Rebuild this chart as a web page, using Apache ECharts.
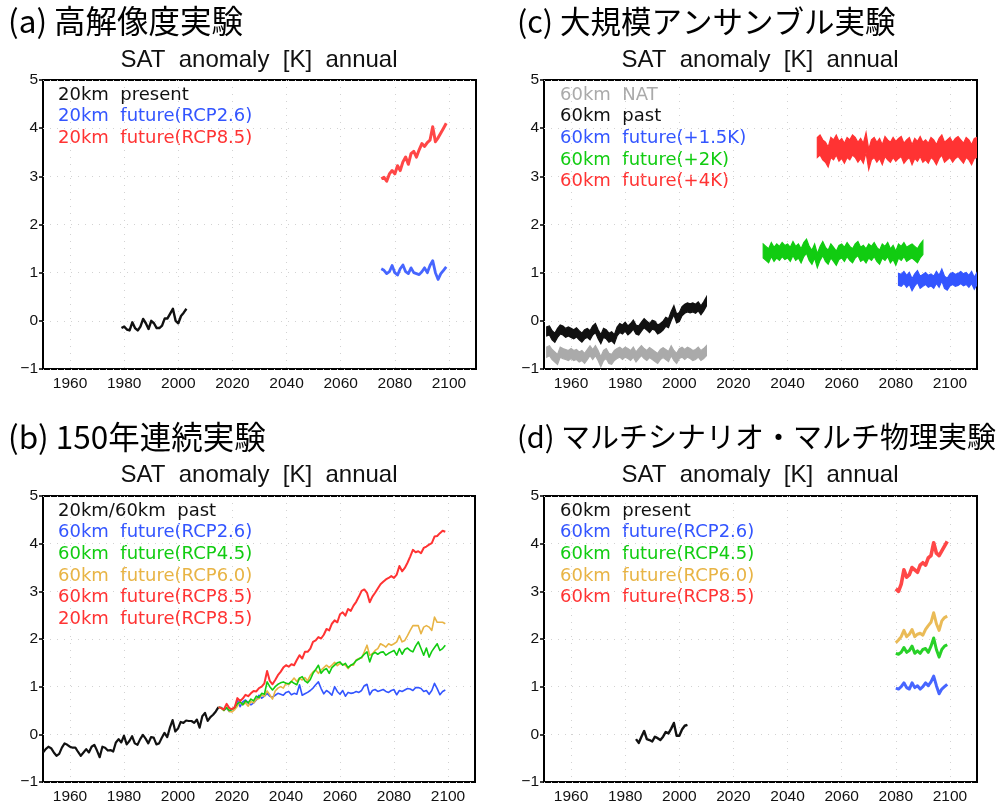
<!DOCTYPE html>
<html>
<head>
<meta charset="utf-8">
<script src="https://cdn.jsdelivr.net/npm/echarts@6/dist/echarts.min.js"></script>
<style>html,body{margin:0;padding:0;background:#fff}#c{width:1003px;height:805px}</style>
</head>
<body>
<div id="c"></div>
<script>
// ---------- tick labels ----------
const xTickYears = [1960, 1980, 2000, 2020, 2040, 2060, 2080, 2100];
const yMin = -1, yMax = 5;

// ---------- panel titles / legend texts ----------
const panelTitles = ['(a) 高解像度実験', '(b) 150年連続実験', '(c) 大規模アンサンブル実験', '(d) マルチシナリオ・マルチ物理実験'];
const subTitle = 'SAT  anomaly  [K]  annual';
const legendA = ['20km  present', '20km  future(RCP2.6)', '20km  future(RCP8.5)'];
const legendB = ['20km/60km  past', '60km  future(RCP2.6)', '60km  future(RCP4.5)', '60km  future(RCP6.0)', '60km  future(RCP8.5)', '20km  future(RCP8.5)'];
const legendC = ['60km  NAT', '60km  past', '60km  future(+1.5K)', '60km  future(+2K)', '60km  future(+4K)'];
const legendD = ['60km  present', '60km  future(RCP2.6)', '60km  future(RCP4.5)', '60km  future(RCP6.0)', '60km  future(RCP8.5)'];

// ---------- panel (a) ----------
const aPresentStart = 1979;
const aPresent = [-0.15,-0.12,-0.18,-0.20,-0.03,-0.15,-0.20,-0.12,0.04,-0.05,-0.17,0.00,-0.05,-0.15,-0.15,-0.10,0.05,0.05,0.15,0.25,0.00,-0.05,0.10,0.17,0.25];
const aFutureStart = 2075;
const aRcp26 = [1.08,1.05,0.98,1.02,1.15,1.00,0.95,1.08,1.16,1.02,0.98,1.10,1.00,0.98,0.96,1.02,1.10,1.00,1.15,1.25,1.00,0.86,0.98,1.05,1.12];
const aRcp85 = [2.95,2.98,2.90,3.05,3.12,3.05,3.22,3.12,3.30,3.40,3.25,3.47,3.52,3.40,3.55,3.68,3.62,3.70,3.75,4.03,3.72,3.80,3.90,4.00,4.10];

// ---------- panel (b) ----------
const bPastStart = 1950;
const bPast = [-0.38,-0.31,-0.26,-0.29,-0.38,-0.45,-0.41,-0.28,-0.19,-0.22,
 -0.26,-0.28,-0.28,-0.37,-0.45,-0.38,-0.31,-0.38,-0.26,-0.22,
 -0.34,-0.48,-0.26,-0.28,-0.34,-0.33,-0.36,-0.17,-0.10,-0.17,
 -0.03,-0.21,-0.14,-0.04,-0.19,-0.22,-0.10,-0.01,-0.09,-0.19,
 -0.06,-0.07,-0.21,-0.19,-0.07,0.03,-0.06,0.14,0.30,0.06,
 0.12,0.26,0.24,0.29,0.28,0.28,0.24,0.31,0.14,0.38,
 0.45,0.28,0.36,0.41,0.48,0.57];
const bFutureStart = 2015;
const bRcp26 = [0.57,0.56,0.52,0.55,0.48,0.53,0.56,0.72,0.58,0.68,
 0.72,0.66,0.62,0.66,0.72,0.82,0.76,0.80,0.86,0.80,
 0.78,0.82,0.86,0.84,0.82,0.88,0.90,0.83,0.86,0.84,
 1.04,0.82,0.85,0.88,0.92,0.97,1.04,1.10,0.96,0.85,
 0.92,0.88,0.82,1.00,0.90,0.84,0.92,0.80,0.88,0.86,
 0.87,0.90,0.88,0.92,1.02,1.05,0.83,0.92,0.94,0.90,
 0.92,0.94,0.90,0.88,0.92,0.94,0.83,0.92,0.90,0.93,
 0.96,0.95,0.92,0.98,0.98,0.96,0.90,0.92,0.84,0.92,
 1.07,0.96,0.83,0.90,0.93];
const bRcp45 = [0.57,0.56,0.50,0.56,0.50,0.52,0.56,0.64,0.68,0.62,
 0.70,0.66,0.74,0.70,0.80,0.77,0.86,0.84,1.10,1.00,
 0.93,1.00,1.05,1.08,1.10,1.07,1.06,1.11,1.07,1.04,
 1.18,1.21,1.12,1.08,1.15,1.28,1.36,1.45,1.28,1.35,
 1.38,1.28,1.40,1.45,1.50,1.52,1.45,1.49,1.40,1.45,
 1.48,1.55,1.58,1.62,1.68,1.73,1.52,1.68,1.72,1.68,
 1.72,1.73,1.66,1.70,1.73,1.76,1.66,1.80,1.68,1.78,
 1.81,1.76,1.73,1.85,1.94,1.80,1.66,1.81,1.62,1.74,
 1.82,1.90,1.76,1.80,1.87];
const bRcp60 = [0.57,0.55,0.50,0.57,0.48,0.47,0.52,0.59,0.69,0.62,
 0.66,0.59,0.69,0.66,0.73,0.75,0.83,0.80,0.91,0.83,
 0.74,0.91,0.97,1.00,0.97,1.07,1.04,1.11,1.18,1.11,
 1.18,1.14,1.19,1.12,1.24,1.31,1.35,1.28,1.35,1.40,
 1.45,1.40,1.45,1.51,1.44,1.49,1.47,1.45,1.38,1.45,
 1.45,1.56,1.59,1.60,1.73,1.87,1.66,1.69,1.76,1.80,
 1.90,1.87,1.83,1.90,1.87,1.90,1.94,2.07,1.94,1.97,
 2.07,2.18,2.28,2.28,2.28,2.11,2.25,2.28,2.25,2.18,
 2.46,2.35,2.35,2.35,2.32];
const bRcp85 = [0.57,0.55,0.52,0.64,0.55,0.53,0.57,0.76,0.70,0.75,
 0.83,0.80,0.86,0.91,0.90,0.97,1.00,1.07,1.33,1.12,
 1.05,1.14,1.24,1.31,1.40,1.45,1.42,1.47,1.45,1.56,
 1.66,1.59,1.73,1.73,1.80,1.94,1.97,2.04,2.01,2.09,
 2.21,2.18,2.32,2.39,2.35,2.52,2.56,2.49,2.63,2.59,
 2.70,2.78,2.89,3.01,3.04,2.97,2.77,2.89,2.97,3.06,
 3.15,3.20,3.25,3.28,3.32,3.28,3.35,3.53,3.42,3.49,
 3.60,3.73,3.87,3.82,3.84,3.80,3.91,3.94,3.98,4.01,
 4.15,4.16,4.22,4.27,4.25];

// ---------- panel (c) : ensemble central values ----------
const cPastStart = 1951;
const cNat = [-0.65,-0.62,-0.70,-0.75,-0.80,-0.65,-0.68,-0.70,-0.72,-0.68,
 -0.72,-0.70,-0.75,-0.72,-0.78,-0.70,-0.62,-0.70,-0.62,-0.72,
 -0.85,-0.72,-0.68,-0.78,-0.80,-0.72,-0.68,-0.65,-0.70,-0.65,
 -0.68,-0.72,-0.65,-0.75,-0.68,-0.62,-0.68,-0.72,-0.66,-0.70,
 -0.74,-0.78,-0.70,-0.66,-0.70,-0.74,-0.62,-0.72,-0.78,-0.68,
 -0.65,-0.70,-0.65,-0.68,-0.72,-0.70,-0.65,-0.72,-0.68,-0.62];
const cPast = [-0.22,-0.20,-0.30,-0.35,-0.25,-0.18,-0.20,-0.25,-0.22,-0.25,
 -0.28,-0.24,-0.30,-0.35,-0.28,-0.25,-0.30,-0.20,-0.15,-0.28,
 -0.38,-0.25,-0.28,-0.35,-0.32,-0.38,-0.22,-0.15,-0.18,-0.12,
 -0.20,-0.15,-0.08,-0.18,-0.20,-0.12,-0.05,-0.10,-0.15,-0.08,
 -0.10,-0.18,-0.15,-0.10,-0.02,-0.05,0.10,0.22,0.05,0.08,
 0.20,0.25,0.28,0.26,0.28,0.25,0.30,0.22,0.30,0.40];
const cPlus2Start = 2031;
const cPlus2 = [1.45,1.40,1.35,1.48,1.38,1.45,1.40,1.48,1.42,1.45,
 1.38,1.50,1.40,1.45,1.35,1.48,1.55,1.40,1.32,1.45,
 1.25,1.40,1.50,1.38,1.32,1.45,1.38,1.30,1.42,1.45,
 1.38,1.48,1.40,1.35,1.45,1.50,1.38,1.42,1.35,1.45,
 1.40,1.48,1.38,1.32,1.45,1.40,1.48,1.35,1.42,1.30,
 1.45,1.40,1.48,1.38,1.42,1.45,1.40,1.35,1.45,1.52];
const cPlus4Start = 2051;
const cPlus4 = [3.60,3.65,3.55,3.50,3.40,3.60,3.55,3.65,3.52,3.58,
 3.48,3.60,3.55,3.65,3.60,3.50,3.58,3.48,3.70,3.35,
 3.55,3.60,3.50,3.58,3.45,3.62,3.55,3.50,3.60,3.52,
 3.58,3.62,3.48,3.55,3.60,3.45,3.58,3.52,3.62,3.50,
 3.55,3.48,3.60,3.55,3.45,3.58,3.65,3.50,3.55,3.60,
 3.50,3.58,3.62,3.55,3.48,3.60,3.55,3.45,3.58,3.60];
const cPlus15Start = 2081;
const cPlus15 = [0.86,0.84,0.90,0.82,0.88,0.75,0.85,0.92,0.80,0.84,
 0.88,0.82,0.85,0.80,0.90,0.82,0.95,0.80,0.76,0.85,
 0.88,0.84,0.86,0.90,0.85,0.88,0.82,0.90,0.78,0.88];

// ---------- panel (d) ----------
const dPresentStart = 1984;
const dPresent = [-0.10,-0.18,-0.05,0.07,-0.10,-0.12,-0.15,-0.05,-0.08,-0.12,-0.05,0.05,0.02,0.12,0.24,-0.03,-0.03,0.10,0.18,0.20];
const dFutureStart = 2080;
const dRcp26 = [0.97,0.95,1.00,1.08,0.98,0.95,1.08,0.98,1.02,0.95,1.00,1.08,1.02,1.10,1.22,1.02,0.85,0.95,1.00,1.05];
const dRcp45 = [1.70,1.68,1.72,1.82,1.72,1.76,1.85,1.70,1.75,1.70,1.78,1.80,1.72,1.85,2.02,1.78,1.62,1.78,1.85,1.88];
const dRcp60 = [1.92,1.98,2.05,2.18,2.05,2.10,2.20,2.05,2.10,2.12,2.08,2.20,2.28,2.35,2.55,2.32,2.18,2.38,2.45,2.48];
const dRcp85 = [3.05,3.00,3.15,3.45,3.30,3.35,3.50,3.45,3.40,3.55,3.60,3.55,3.70,3.75,4.02,3.80,3.75,3.85,3.95,4.05];

// ---------- styles ----------
const COL = {black:'#111111', blue:'#3355ff', green:'#11cc11', orange:'#e8b445', red:'#ff3333', gray:'#aaaaaa'};
const grids = [
  {left:43, top:80, width:433, height:289},   // a
  {left:43, top:496, width:432, height:289},  // b
  {left:544, top:80, width:433, height:289},  // c
  {left:544, top:496, width:433, height:289}  // d
];

function pairs(start, vals){ return vals.map((v,i)=>[start+i, v]); }

const dotted = {color:'#d2d2d2', type:[1,6], width:1};
const xAxes = grids.map((g,i)=>({
  type:'value', gridIndex:i, min:1950, max:2110,
  axisLine:{show:false},
  axisTick:{show:false, customValues:xTickYears},
  axisLabel:{customValues:xTickYears, color:'#111', fontSize:15.5, fontFamily:'Liberation Sans', margin:7,
    formatter:v=>String(v)},
  splitLine:{show:true, lineStyle:dotted}
}));
const yAxes = grids.map((g,i)=>({
  type:'value', gridIndex:i, min:yMin, max:yMax, interval:1,
  axisLine:{show:false},
  axisTick:{show:true, length:4, lineStyle:{color:'#000', width:1.5}},
  axisLabel:{color:'#111', fontSize:15.5, fontFamily:'Liberation Sans', margin:5,
    formatter:v=>String(v).replace('-', '\u2212')},
  splitLine:{show:true, lineStyle:dotted}
}));

function line(gi, start, vals, color, width, opacity){
  return {type:'line', xAxisIndex:gi, yAxisIndex:gi, data:pairs(start, vals),
    showSymbol:false, symbol:'none', silent:true, animation:false, clip:true,
    lineStyle:{color:color, width:width, opacity:opacity==null?1:opacity, join:'round', cap:'butt'}};
}
// ensemble spread drawn as a band of fixed pixel thickness around the central values
function band(gi, start, vals, color, halfPx){
  const pts = pairs(start, vals);
  return {type:'custom', xAxisIndex:gi, yAxisIndex:gi, data:pts, silent:true, animation:false, clip:true,
    encode:{x:0, y:1},
    renderItem:(params, api)=>{
      if (params.dataIndex !== 0) return null;
      const cs = pts.map(p=>api.coord(p));
      const top = cs.map(c=>[c[0], c[1]-halfPx]);
      const bot = cs.map(c=>[c[0], c[1]+halfPx]).reverse();
      return {type:'polygon', shape:{points:top.concat(bot)},
        style:{fill:color, stroke:color, lineWidth:1.2, lineJoin:'miter'}};
    }};
}

const series = [
  // (a)
  line(0, aPresentStart, aPresent, COL.black, 2.4),
  line(0, aFutureStart, aRcp26, COL.blue, 2.8, 0.9),
  line(0, aFutureStart, aRcp85, COL.red, 3.0, 0.9),
  // (b)
  line(1, bPastStart, bPast, COL.black, 2.2),
  line(1, bFutureStart, bRcp26, COL.blue, 1.6),
  line(1, bFutureStart, bRcp60, COL.orange, 1.6),
  line(1, bFutureStart, bRcp45, COL.green, 1.6),
  line(1, bFutureStart, bRcp85, COL.red, 2.0),
  // (c)
  band(2, cPastStart, cNat, COL.gray, 5),
  band(2, cPastStart, cPast, COL.black, 4.5),
  band(2, cPlus2Start, cPlus2, COL.green, 7),
  band(2, cPlus4Start, cPlus4, COL.red, 10),
  band(2, cPlus15Start, cPlus15, COL.blue, 6),
  // (d)
  line(3, dPresentStart, dPresent, COL.black, 2.4),
  line(3, dFutureStart, dRcp26, COL.blue, 3.0, 0.9),
  line(3, dFutureStart, dRcp45, COL.green, 3.0, 0.9),
  line(3, dFutureStart, dRcp60, COL.orange, 3.0, 0.9),
  line(3, dFutureStart, dRcp85, COL.red, 3.6, 0.9)
];

// ---------- texts ----------
const graphic = [];
const titlePos = [[8,21],[8,437],[517,21],[517,437]];
const titleSize = [31.5, 31.5, 30.5, 29];
panelTitles.forEach((t,i)=>graphic.push({type:'text', x:titlePos[i][0], y:titlePos[i][1], silent:true,
  style:{text:t, fontSize:titleSize[i], fontFamily:'"Noto Sans CJK JP"', fill:'#000', align:'left', verticalAlign:'middle'}}));
const subPos = [[259,60],[259,475],[760,60],[760,475]];
subPos.forEach(p=>graphic.push({type:'text', x:p[0], y:p[1], silent:true,
  style:{text:subTitle, fontSize:24, fontFamily:'Liberation Sans', fill:'#111', align:'center', verticalAlign:'middle'}}));
function legendTexts(x, y0, labels, colors){
  labels.forEach((t,k)=>graphic.push({type:'text', x:x, y:y0+k*21.7, silent:true,
    style:{text:t, fontSize:18, fontFamily:'DejaVu Sans', fill:colors[k], align:'left', verticalAlign:'middle'}}));
}
legendTexts(58, 95, legendA, [COL.black, COL.blue, COL.red]);
legendTexts(58, 511, legendB, [COL.black, COL.blue, COL.green, COL.orange, COL.red, COL.red]);
legendTexts(560, 95, legendC, [COL.gray, COL.black, COL.blue, COL.green, COL.red]);
legendTexts(560, 511, legendD, [COL.black, COL.blue, COL.green, COL.orange, COL.red]);

const chart = echarts.init(document.getElementById('c'), null, {renderer:'canvas'});
chart.setOption({
  backgroundColor:'#ffffff',
  animation:false,
  grid: grids.map(g=>Object.assign({show:true, borderColor:'#000', borderWidth:2, backgroundColor:'transparent', containLabel:false}, g)),
  xAxis: xAxes,
  yAxis: yAxes,
  series: series,
  graphic: graphic
});
</script>
</body>
</html>
